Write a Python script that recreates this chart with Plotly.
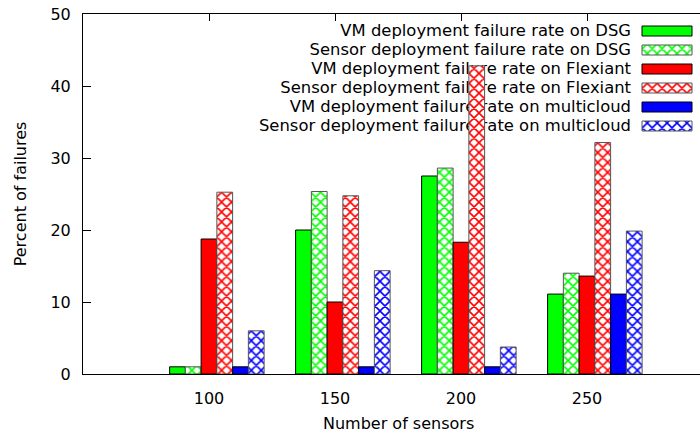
import plotly.graph_objects as go

# ---- data ----
sensor_counts = ["100", "150", "200", "250"]
series_names = [
    "VM deployment failure rate on DSG",
    "Sensor deployment failure rate on DSG",
    "VM deployment failure rate on Flexiant",
    "Sensor deployment failure rate on Flexiant",
    "VM deployment failure rate on multicloud",
    "Sensor deployment failure rate on multicloud",
]
vm_dsg = [1.0, 20.0, 27.5, 11.1]
sensor_dsg = [1.0, 25.35, 28.6, 14.0]
vm_flexiant = [18.75, 10.0, 18.3, 13.6]
sensor_flexiant = [25.25, 24.75, 42.8, 32.15]
vm_multicloud = [1.0, 1.0, 1.0, 11.1]
sensor_multicloud = [6.0, 14.35, 3.75, 19.85]
y_ticks = [0, 10, 20, 30, 40, 50]

series_values = [vm_dsg, sensor_dsg, vm_flexiant, sensor_flexiant, vm_multicloud, sensor_multicloud]

# ---- styles ----
colors = ["#00ff00", "#00ff00", "#ff0000", "#ff0000", "#0000ff", "#0000ff"]
patterned = [False, True, False, True, False, True]
FONT = "DejaVu Sans"
W = 700
H = 432
ML, MR, MT, MB = 83, 0, 14, 58
bar_w = 0.125  # histogram gap 2 with 6 bars


def marker_for(j):
    if patterned[j]:
        return dict(color="white",
                    line=dict(color="#555555", width=1),
                    pattern=dict(shape="x", size=7, solidity=0.4,
                                 fgcolor=colors[j], bgcolor="white",
                                 fillmode="replace"))
    return dict(color=colors[j], line=dict(color="black", width=1))


fig = go.Figure()

# ---- legend (bottom subplot, in pixel units, so bars can cover its text) ----
row_y = [32 + 19 * k for k in range(len(series_names))]
fig.add_trace(go.Scatter(
    x=[631] * len(series_names), y=row_y, text=series_names,
    mode="text", textposition="middle left",
    textfont=dict(family=FONT, size=16.4, color="black"),
    xaxis="x", yaxis="y", showlegend=False, hoverinfo="skip"))
for j in range(len(series_names)):
    fig.add_trace(go.Bar(
        x=[50], base=[642], y=[row_y[j] - 1], width=10, orientation="h",
        marker=marker_for(j), xaxis="x", yaxis="y",
        showlegend=False, hoverinfo="skip"))

# ---- bars (top subplot) ----
cluster_idx = list(range(len(sensor_counts)))
for j, vals in enumerate(series_values):
    fig.add_trace(go.Bar(
        x=cluster_idx, y=vals, name=series_names[j],
        offset=(j - 2.5) * bar_w, width=bar_w,
        marker=marker_for(j), xaxis="x2", yaxis="y2", showlegend=False))

plot_w = W - ML - MR
x_range = [-1, -1 + plot_w / 126.0]

fig.update_layout(
    width=W, height=H,
    margin=dict(l=ML, r=MR, t=MT, b=MB),
    paper_bgcolor="white", plot_bgcolor="rgba(0,0,0,0)",
    barmode="overlay",
    font=dict(family=FONT, size=16, color="black"),
    xaxis=dict(domain=[0, 1], range=[ML, W - MR], visible=False, fixedrange=True),
    yaxis=dict(domain=[0, 1], range=[H - MB, MT], visible=False, fixedrange=True),
    xaxis2=dict(domain=[0, 1], anchor="y2", range=x_range,
                tickvals=cluster_idx, ticktext=sensor_counts,
                ticks="inside", ticklen=7, tickcolor="black", tickwidth=1,
                showline=True, linecolor="black", linewidth=1, mirror="ticks",
                showgrid=False, zeroline=False, layer="below traces",
                ticklabelstandoff=10,
                tickfont=dict(family=FONT, size=16, color="black")),
    yaxis2=dict(domain=[0, 1], anchor="x2", range=[0, 50],
                tickvals=y_ticks,
                ticks="inside", ticklen=8, tickcolor="black", tickwidth=1,
                showline=True, linecolor="black", linewidth=1, mirror=False,
                showgrid=False, zeroline=False, layer="below traces",
                ticklabelstandoff=8,
                tickfont=dict(family=FONT, size=16, color="black")),
    annotations=[
        dict(text="Number of sensors", xref="paper", yref="paper",
             x=(398 - ML) / plot_w, y=(H - MB - 423) / (H - MT - MB),
             xanchor="center", yanchor="middle", showarrow=False,
             font=dict(family=FONT, size=16, color="black")),
        dict(text="Percent of failures", xref="paper", yref="paper",
             x=(20.3 - ML) / plot_w, y=0.5, textangle=-90,
             xanchor="center", yanchor="middle", showarrow=False,
             font=dict(family=FONT, size=16, color="black")),
    ],
)

fig.write_html(
    "out.html",
    config={"displayModeBar": False},
    post_script="document.body.style.margin='0';document.body.style.overflow='hidden';",
)
